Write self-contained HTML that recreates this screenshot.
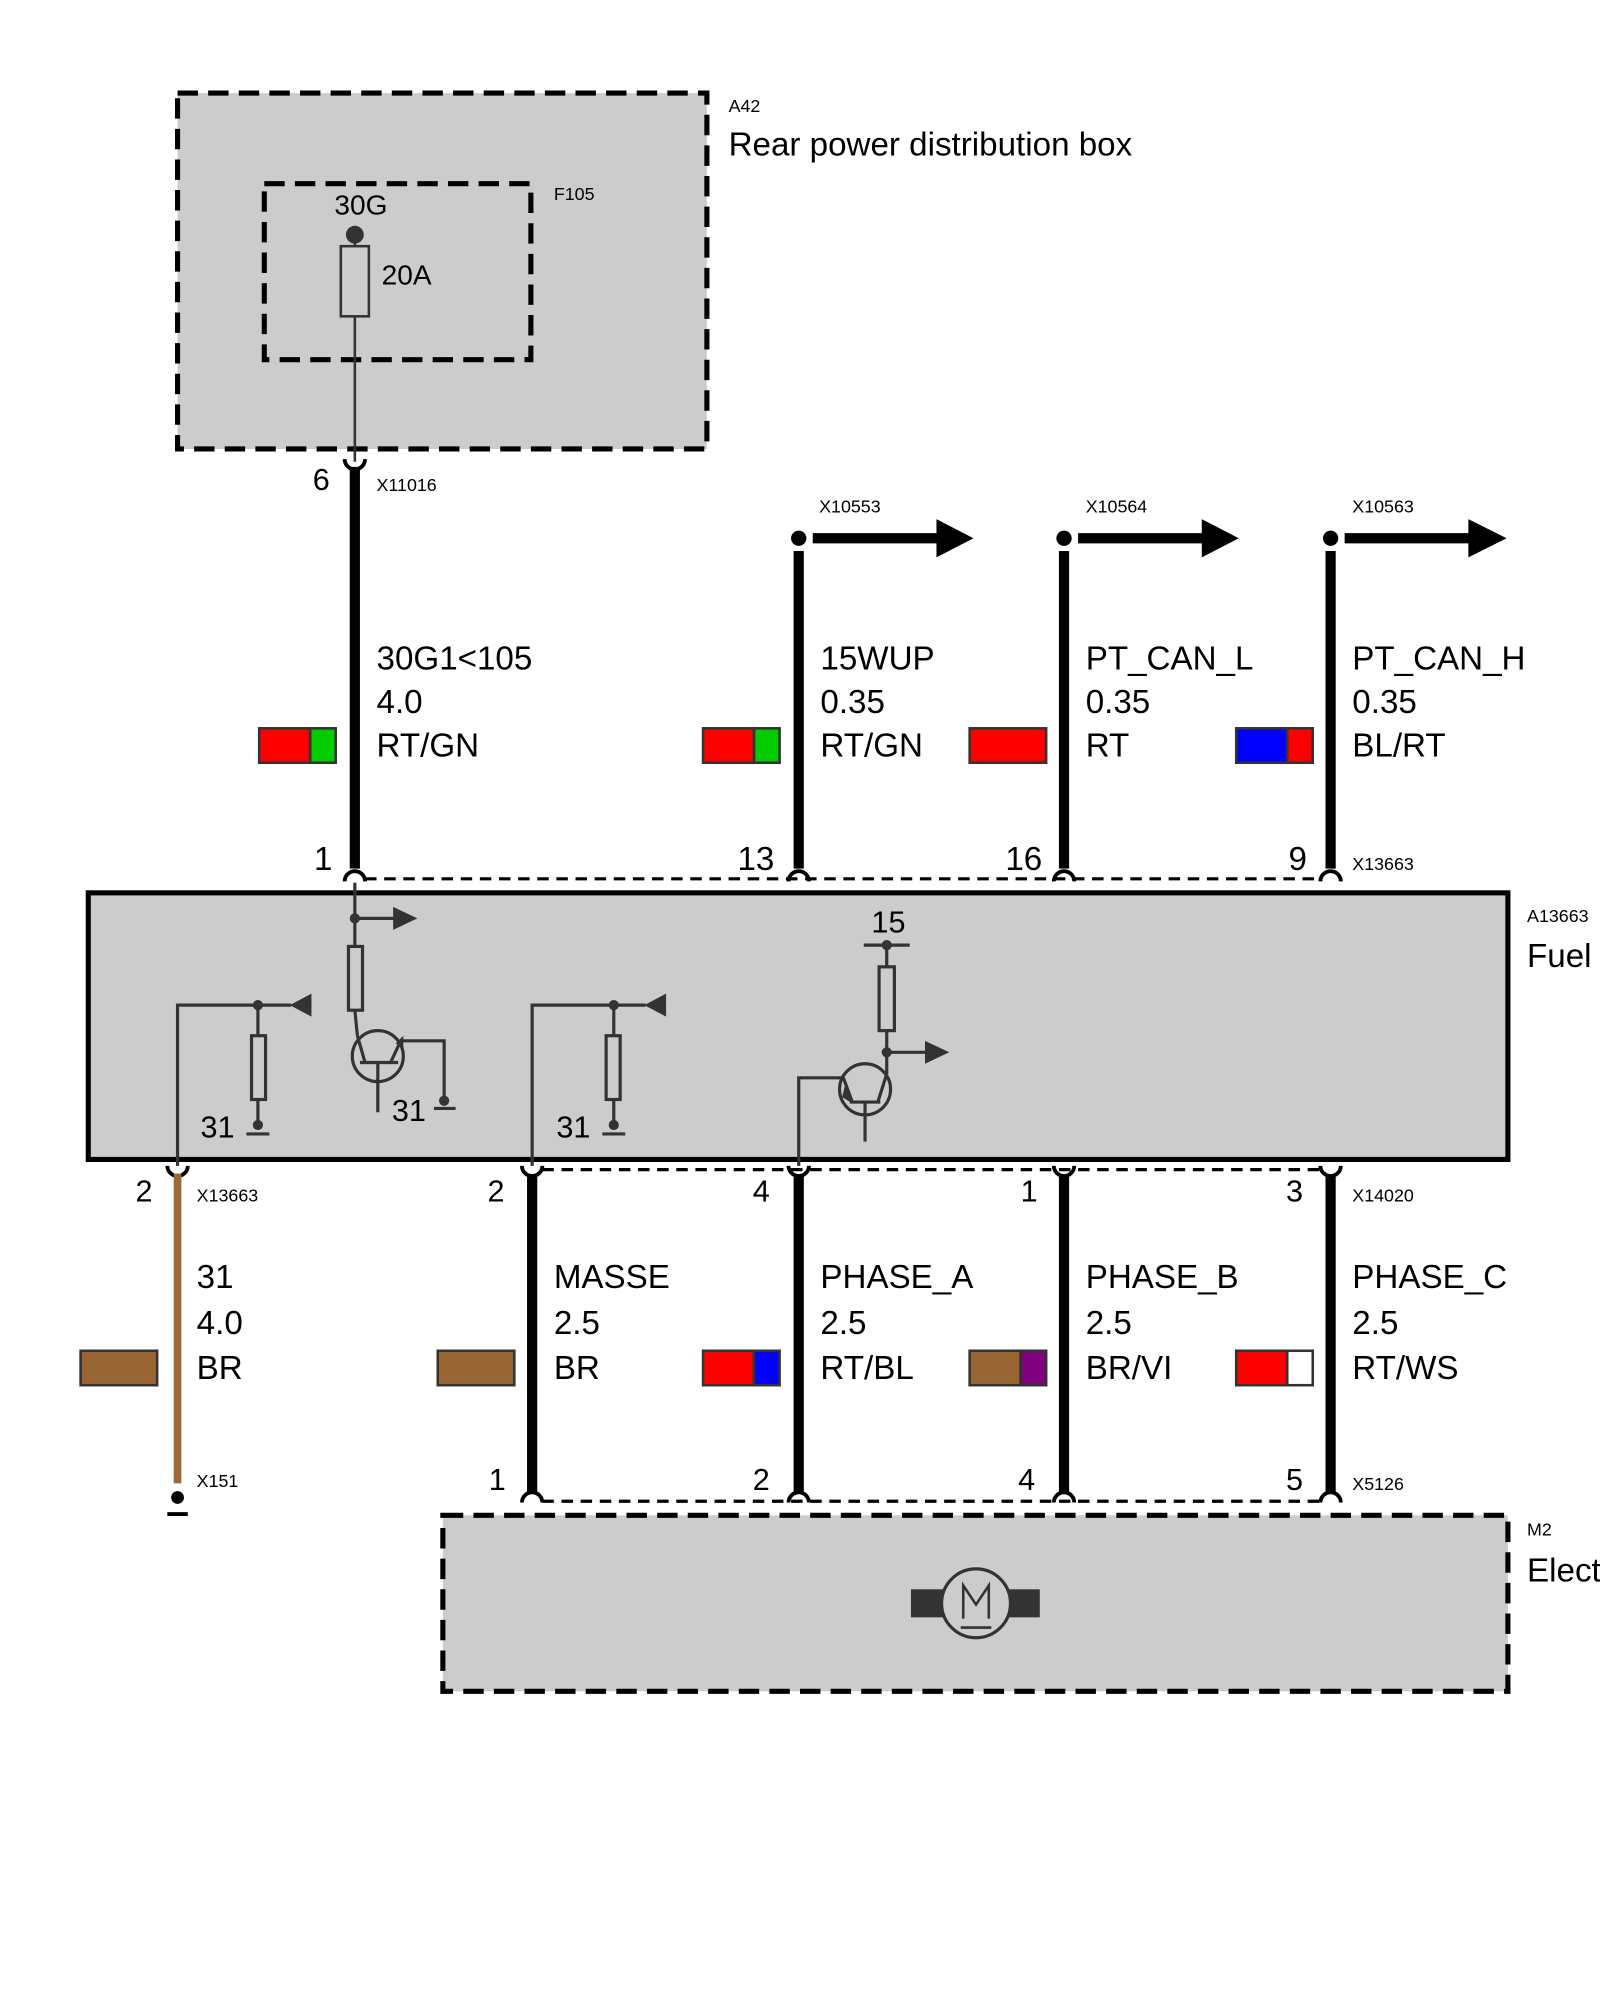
<!DOCTYPE html>
<html><head><meta charset="utf-8"><style>html,body{margin:0;padding:0;background:#fff}svg{display:block}text{font-family:"Liberation Sans",sans-serif;fill:#000}</style></head><body>
<svg width="1600" height="2000" viewBox="0 0 1254 1568" xmlns="http://www.w3.org/2000/svg">
<rect width="1254" height="1568" fill="#fff"/>
<!-- A42 -->
<rect x="139" y="73" width="415" height="279" fill="#ccc" stroke="#000" stroke-width="4" stroke-dasharray="16,8"/>
<rect x="207" y="144" width="209" height="138" fill="none" stroke="#000" stroke-width="4" stroke-dasharray="16,8"/>
<line x1="278" y1="184" x2="278" y2="362" stroke="#333" stroke-width="2"/>
<circle cx="278" cy="184" r="7" fill="#333"/>
<rect x="267" y="193" width="22" height="55" fill="#ccc" stroke="#333" stroke-width="2"/>
<text x="571" y="88" font-size="14">A42</text>
<text x="571" y="122" font-size="26">Rear power distribution box</text>
<text x="434" y="157" font-size="14">F105</text>
<text x="262" y="168" font-size="22">30G</text>
<text x="299" y="223" font-size="22">20A</text>
<!-- top wires -->
<g stroke="#000" stroke-width="8" fill="none">
<line x1="278" y1="366" x2="278" y2="681"/>
<line x1="626" y1="432" x2="626" y2="681"/>
<line x1="834" y1="432" x2="834" y2="681"/>
<line x1="1043" y1="432" x2="1043" y2="681"/>
<line x1="637" y1="422" x2="740" y2="422"/>
<line x1="845" y1="422" x2="948" y2="422"/>
<line x1="1054" y1="422" x2="1156" y2="422"/>
</g>
<g fill="#000">
<circle cx="626" cy="422" r="6"/><circle cx="834" cy="422" r="6"/><circle cx="1043" cy="422" r="6"/>
<polygon points="734,407 763,422 734,437"/><polygon points="942,407 971,422 942,437"/><polygon points="1151,407 1181,422 1151,437"/>
</g>
<!-- connector cups -->
<g stroke="#000" stroke-width="3" fill="none">
<path d="M270,360 A8,8 0 0 0 286,360"/>
<path d="M270,691 A8,8 0 0 1 286,691"/><path d="M618,691 A8,8 0 0 1 634,691"/><path d="M826,691 A8,8 0 0 1 842,691"/><path d="M1035,691 A8,8 0 0 1 1051,691"/>
<path d="M131,914 A8,8 0 0 0 147,914"/><path d="M409,914 A8,8 0 0 0 425,914"/><path d="M618,914 A8,8 0 0 0 634,914"/><path d="M826,914 A8,8 0 0 0 842,914"/><path d="M1035,914 A8,8 0 0 0 1051,914"/>
<path d="M409,1178 A8,8 0 0 1 425,1178"/><path d="M618,1178 A8,8 0 0 1 634,1178"/><path d="M826,1178 A8,8 0 0 1 842,1178"/><path d="M1035,1178 A8,8 0 0 1 1051,1178"/>
</g>
<line x1="286" y1="689" x2="1035" y2="689" stroke="#000" stroke-width="2.5" stroke-dasharray="9,6"/>
<line x1="425" y1="917" x2="1035" y2="917" stroke="#000" stroke-width="2.5" stroke-dasharray="9,6"/>
<line x1="425" y1="1177" x2="1035" y2="1177" stroke="#000" stroke-width="2.5" stroke-dasharray="9,6"/>
<text x="245" y="384" font-size="24">6</text><text x="295" y="385" font-size="14">X11016</text>
<text x="642" y="402" font-size="14">X10553</text><text x="851" y="402" font-size="14">X10564</text><text x="1060" y="402" font-size="14">X10563</text>
<g font-size="26">
<text x="295" y="525">30G1&lt;105</text><text x="295" y="559">4.0</text><text x="295" y="593">RT/GN</text>
<text x="643" y="525">15WUP</text><text x="643" y="559">0.35</text><text x="643" y="593">RT/GN</text>
<text x="851" y="525">PT_CAN_L</text><text x="851" y="559">0.35</text><text x="851" y="593">RT</text>
<text x="1060" y="525">PT_CAN_H</text><text x="1060" y="559">0.35</text><text x="1060" y="593">BL/RT</text>
<text x="246" y="682">1</text><text x="578" y="682">13</text><text x="788" y="682">16</text><text x="1010" y="682">9</text>
</g>
<text x="1060" y="682" font-size="14">X13663</text>
<g stroke="#333" stroke-width="2">
<rect x="203" y="571" width="40" height="27" fill="#f00"/><rect x="243" y="571" width="20" height="27" fill="#0c0"/>
<rect x="551" y="571" width="40" height="27" fill="#f00"/><rect x="591" y="571" width="20" height="27" fill="#0c0"/>
<rect x="760" y="571" width="60" height="27" fill="#f00"/>
<rect x="969" y="571" width="40" height="27" fill="#00f"/><rect x="1009" y="571" width="20" height="27" fill="#f00"/>
</g>
<!-- Fuel box -->
<rect x="69" y="700" width="1113" height="209" fill="#ccc" stroke="#000" stroke-width="4"/>
<text x="1197" y="723" font-size="14">A13663</text><text x="1197" y="758" font-size="26">Fuel</text>
<g stroke="#333" stroke-width="2.5" fill="none">
<line x1="278" y1="692" x2="278" y2="742"/><line x1="278" y1="720" x2="312" y2="720"/>
<rect x="273" y="742" width="11" height="50"/>
<line x1="278" y1="792" x2="280" y2="812"/>
<circle cx="296" cy="828" r="20"/>
<line x1="282" y1="833" x2="312" y2="833"/><line x1="296" y1="833" x2="296" y2="872"/>
<line x1="280" y1="812" x2="286" y2="833"/><line x1="306" y1="833" x2="314" y2="816"/>
<polyline points="314,816 348,816 348,862"/>
<line x1="340" y1="869" x2="357" y2="869"/>
<polyline points="139,914 139,788 228,788"/><line x1="202" y1="788" x2="202" y2="812"/>
<rect x="197" y="812" width="11" height="50"/><line x1="202" y1="862" x2="202" y2="882"/><line x1="193" y1="889" x2="211" y2="889"/>
<polyline points="417,914 417,788 506,788"/><line x1="481" y1="788" x2="481" y2="812"/>
<rect x="475" y="812" width="11" height="50"/><line x1="481" y1="862" x2="481" y2="882"/><line x1="472" y1="889" x2="490" y2="889"/>
<line x1="677" y1="741" x2="713" y2="741"/><line x1="695" y1="741" x2="695" y2="758"/>
<rect x="689" y="758" width="12" height="50"/><line x1="695" y1="808" x2="695" y2="842"/><line x1="695" y1="825" x2="728" y2="825"/>
<circle cx="678" cy="854" r="20"/>
<polyline points="626,914 626,845 661,845"/>
<line x1="666" y1="864" x2="690" y2="864"/><line x1="678" y1="864" x2="678" y2="895"/>
<line x1="661" y1="845" x2="668" y2="864"/><line x1="688" y1="864" x2="695" y2="842"/>
</g>
<g fill="#333">
<circle cx="278" cy="720" r="4"/><polygon points="308,711 327,720 308,729"/>
<polygon points="310,818 316,812 316,822"/>
<circle cx="348" cy="863" r="4"/>
<circle cx="202" cy="788" r="4"/><polygon points="244,779 227,788 244,797"/><circle cx="202" cy="882" r="4"/>
<circle cx="481" cy="788" r="4"/><polygon points="522,779 505,788 522,797"/><circle cx="481" cy="882" r="4"/>
<circle cx="695" cy="741" r="4"/><circle cx="695" cy="825" r="4"/><polygon points="725,816 744,825 725,834"/>
<polygon points="663,848 668,865 660,860"/>
</g>
<g font-size="24"><text x="157" y="892">31</text><text x="436" y="892">31</text><text x="307" y="879">31</text><text x="683" y="731">15</text></g>
<!-- bottom wires -->
<line x1="139" y1="920" x2="139" y2="1163" stroke="#9b6a3a" stroke-width="6"/>
<circle cx="139" cy="1174" r="5" fill="#000"/><line x1="131" y1="1187" x2="147" y2="1187" stroke="#000" stroke-width="3"/>
<g stroke="#000" stroke-width="8">
<line x1="417" y1="921" x2="417" y2="1170"/><line x1="626" y1="921" x2="626" y2="1170"/><line x1="834" y1="921" x2="834" y2="1170"/><line x1="1043" y1="921" x2="1043" y2="1170"/>
</g>
<g font-size="24">
<text x="106" y="942">2</text><text x="382" y="942">2</text><text x="590" y="942">4</text><text x="800" y="942">1</text><text x="1008" y="942">3</text>
<text x="383" y="1168">1</text><text x="590" y="1168">2</text><text x="798" y="1168">4</text><text x="1008" y="1168">5</text>
</g>
<g font-size="14"><text x="154" y="942">X13663</text><text x="1060" y="942">X14020</text><text x="154" y="1166">X151</text><text x="1060" y="1168">X5126</text><text x="1197" y="1204">M2</text></g>
<g font-size="26">
<text x="154" y="1010">31</text><text x="154" y="1046">4.0</text><text x="154" y="1081">BR</text>
<text x="434" y="1010">MASSE</text><text x="434" y="1046">2.5</text><text x="434" y="1081">BR</text>
<text x="643" y="1010">PHASE_A</text><text x="643" y="1046">2.5</text><text x="643" y="1081">RT/BL</text>
<text x="851" y="1010">PHASE_B</text><text x="851" y="1046">2.5</text><text x="851" y="1081">BR/VI</text>
<text x="1060" y="1010">PHASE_C</text><text x="1060" y="1046">2.5</text><text x="1060" y="1081">RT/WS</text>
<text x="1197" y="1240">Elect</text>
</g>
<g stroke="#333" stroke-width="2">
<rect x="63" y="1059" width="60" height="27" fill="#996633"/>
<rect x="343" y="1059" width="60" height="27" fill="#996633"/>
<rect x="551" y="1059" width="40" height="27" fill="#f00"/><rect x="591" y="1059" width="20" height="27" fill="#00f"/>
<rect x="760" y="1059" width="40" height="27" fill="#996633"/><rect x="800" y="1059" width="20" height="27" fill="#800080"/>
<rect x="969" y="1059" width="40" height="27" fill="#f00"/><rect x="1009" y="1059" width="20" height="27" fill="#fff"/>
</g>
<!-- M2 -->
<rect x="347" y="1188" width="835" height="138" fill="#ccc" stroke="#000" stroke-width="4" stroke-dasharray="16,8"/>
<rect x="714" y="1246" width="28" height="22" fill="#333"/><rect x="788" y="1246" width="27" height="22" fill="#333"/>
<circle cx="765" cy="1257" r="27" fill="#ccc" stroke="#333" stroke-width="2.5"/>
<polyline points="755,1269 755,1243 765,1258 775,1243 775,1269" fill="none" stroke="#333" stroke-width="2"/>
<line x1="753" y1="1276" x2="777" y2="1276" stroke="#333" stroke-width="2"/>
</svg>
</body></html>
